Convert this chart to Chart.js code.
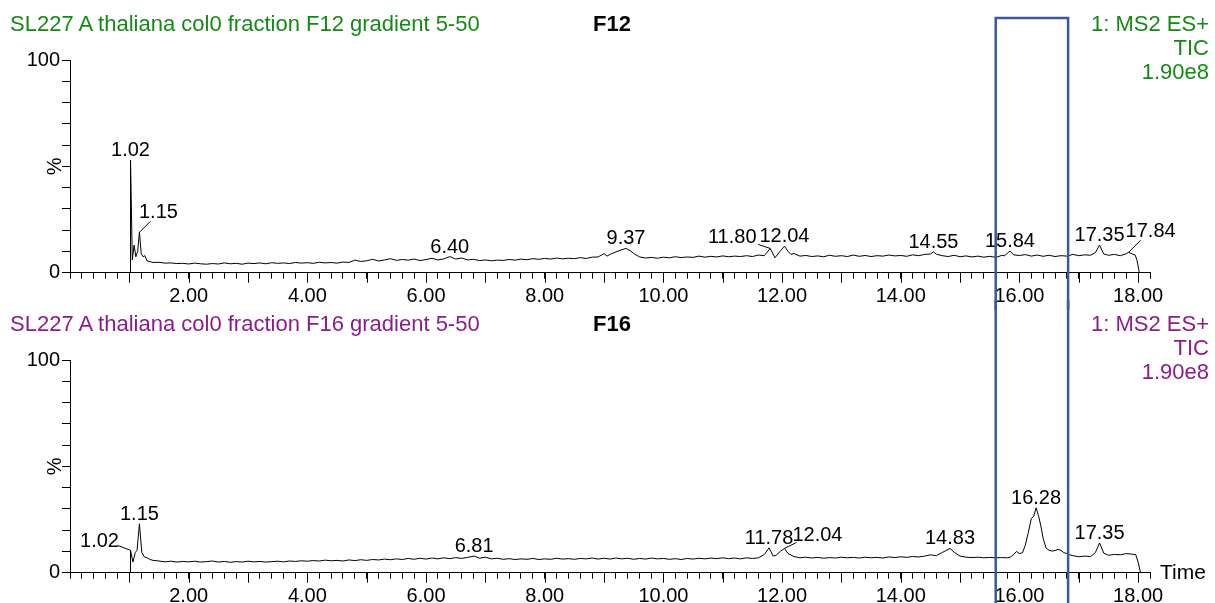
<!DOCTYPE html>
<html>
<head>
<meta charset="utf-8">
<script src="https://cdn.jsdelivr.net/npm/chart.js@4.4.1/dist/chart.umd.min.js"></script>
<style>
  body { margin: 0; background: #fff; }
  #wrap { position: relative; width: 1215px; height: 603px; overflow: hidden; font-family: "Liberation Sans", Arial, sans-serif; }
  canvas { position: absolute; left: 0; }
  .txt { position: absolute; white-space: nowrap; font-size: 22px; line-height: 24px; }
  .right { right: 6px; text-align: right; }
  .green { color: #148a14; }
  .purple { color: #8c1c8c; }
  .name { left: 562px; width: 100px; text-align: center; font-weight: bold; color: #000; }
</style>
</head>
<body>
<div id="wrap">
  <canvas id="top" width="1215" height="310" style="top:0"></canvas>
  <canvas id="bottom" width="1215" height="303" style="top:300px"></canvas>

  <div class="txt green" style="left:10px; top:12px">SL227 A thaliana col0 fraction F12 gradient 5-50</div>
  <div class="txt name" style="top:12px">F12</div>
  <div class="txt green right" style="top:12px">1: MS2 ES+<br>TIC<br>1.90e8</div>

  <div class="txt purple" style="left:10px; top:312px">SL227 A thaliana col0 fraction F16 gradient 5-50</div>
  <div class="txt name" style="top:312px">F16</div>
  <div class="txt purple right" style="top:312px">1: MS2 ES+<br>TIC<br>1.90e8</div>

  <div class="txt" style="left:1160px; top:560px; font-size:21px">Time</div>
</div>

<script>
// retention time (min) and relative intensity (%)
const f12Time = [0, 1.0, 1.015, 1.02, 1.05, 1.08, 1.11, 1.14, 1.17, 1.2, 1.23, 1.26, 1.3, 1.35, 1.4, 1.5, 1.6, 1.7, 1.8, 1.9,
  2.0, 2.1, 2.2, 2.3, 2.4, 2.5, 2.6, 2.7, 2.8, 2.9, 3.0, 3.1, 3.2, 3.3, 3.4, 3.5, 3.6, 3.7, 3.8, 3.9,
  4.0, 4.1, 4.2, 4.3, 4.4, 4.5, 4.6, 4.7, 4.8, 4.9, 5.0, 5.1, 5.2, 5.3, 5.4, 5.5, 5.6, 5.7, 5.8, 5.9,
  6.0, 6.1, 6.2, 6.3, 6.4, 6.5, 6.6, 6.7, 6.8, 6.9, 7.0, 7.1, 7.2, 7.3, 7.4, 7.5, 7.6, 7.7, 7.8, 7.9,
  8.0, 8.1, 8.2, 8.3, 8.4, 8.5, 8.6, 8.7, 8.8, 8.9, 9.0, 9.05, 9.1, 9.2, 9.3, 9.37, 9.45, 9.5, 9.6, 9.7, 9.8, 9.9,
  10.0, 10.1, 10.2, 10.3, 10.4, 10.5, 10.6, 10.7, 10.8, 10.9, 11.0, 11.1, 11.2, 11.3, 11.4, 11.5, 11.6, 11.7,
  11.8, 11.88, 11.95, 12.04, 12.1, 12.15, 12.2, 12.3, 12.4, 12.5, 12.6, 12.7, 12.8, 12.9,
  13.0, 13.1, 13.2, 13.3, 13.4, 13.5, 13.6, 13.7, 13.8, 13.9, 14.0, 14.1, 14.2, 14.3, 14.4, 14.5, 14.55, 14.6, 14.7, 14.8, 14.9,
  15.0, 15.1, 15.2, 15.3, 15.4, 15.5, 15.6, 15.7, 15.75, 15.84, 15.9, 16.0, 16.1, 16.2, 16.3, 16.4, 16.5, 16.6, 16.7, 16.8, 16.9,
  17.0, 17.1, 17.2, 17.28, 17.35, 17.42, 17.5, 17.6, 17.7, 17.8, 17.84, 17.9, 17.95, 17.98, 18.02, 18.15];
const f12Pct = [0, 0, 0, 53, 6, 13, 7.5, 10, 19, 9, 7.5, 8, 5.5, 5.2, 4.8, 4.9, 4.5, 4.6, 4.3, 4.4,
  4.1, 4.5, 4.2, 4.0, 4.3, 4.1, 4.6, 4.2, 4.4, 4.0, 4.5, 4.3, 4.6, 4.2, 4.7, 4.4, 4.6, 4.3, 4.8, 4.5,
  4.7, 4.4, 4.9, 4.6, 4.8, 4.5, 5.0, 4.8, 5.9, 5.3, 5.6, 6.3, 5.5, 6.0, 6.6, 5.8, 6.2, 5.9, 6.4, 5.7,
  6.2, 6.8, 6.0, 6.5, 7.6, 6.4, 6.9, 6.0, 6.3, 5.7, 6.0, 5.6, 5.9, 5.8, 6.2, 5.9, 6.4, 6.1, 6.6, 6.3,
  6.7, 6.4, 6.9, 6.5, 6.8, 6.6, 7.1, 6.7, 7.3, 7.4, 9.0, 7.8, 8.6, 9.8, 10.8, 11.4, 10.2, 9.0, 7.4, 6.9, 7.2, 6.8,
  7.3, 7.0, 7.5, 7.1, 7.4, 7.2, 7.8, 7.3, 7.7, 7.4, 7.9, 7.5, 7.8, 7.6, 8.0, 7.6, 8.3, 8.0,
  11.4, 7.0, 9.5, 12.5, 10.0, 8.6, 9.0, 7.8, 8.1, 7.6, 7.9, 7.5, 8.2, 7.7,
  8.0, 7.6, 8.3, 7.7, 8.1, 7.6, 8.0, 7.8, 8.3, 7.9, 8.1, 7.7, 8.4, 8.0, 8.6, 8.8, 9.8, 8.7, 8.0, 7.6, 8.2,
  7.5, 7.9, 7.4, 7.8, 7.3, 7.7, 7.2, 8.1, 8.0, 10.2, 8.4, 8.1, 8.5, 7.8, 8.3, 7.7, 8.2, 7.6, 8.0, 7.8, 8.6,
  8.0, 8.4, 8.2, 9.5, 13.0, 8.8, 8.2, 8.6, 8.0, 8.9, 9.6, 8.8, 8.3, 6.0, 0, 0];

const f16Time = [0, 1.0, 1.015, 1.02, 1.06, 1.1, 1.13, 1.17, 1.21, 1.25, 1.3, 1.35, 1.4, 1.5, 1.6, 1.7, 1.8, 1.9,
  2.0, 2.1, 2.2, 2.3, 2.4, 2.5, 2.6, 2.7, 2.8, 2.9, 3.0, 3.1, 3.2, 3.3, 3.4, 3.5, 3.6, 3.7, 3.8, 3.9,
  4.0, 4.1, 4.2, 4.3, 4.4, 4.5, 4.6, 4.7, 4.8, 4.9, 5.0, 5.1, 5.2, 5.3, 5.4, 5.5, 5.6, 5.7, 5.8, 5.9,
  6.0, 6.1, 6.2, 6.3, 6.4, 6.5, 6.6, 6.7, 6.81, 6.9, 7.0, 7.1, 7.2, 7.3, 7.4, 7.5, 7.6, 7.7, 7.8, 7.9,
  8.0, 8.1, 8.2, 8.3, 8.4, 8.5, 8.6, 8.7, 8.8, 8.9, 9.0, 9.1, 9.2, 9.3, 9.4, 9.5, 9.6, 9.7, 9.8, 9.9,
  10.0, 10.1, 10.2, 10.3, 10.4, 10.5, 10.6, 10.7, 10.8, 10.9, 11.0, 11.1, 11.2, 11.3, 11.4, 11.5, 11.6, 11.7,
  11.78, 11.85, 11.9, 11.97, 12.04, 12.1, 12.2, 12.3, 12.4, 12.5, 12.6, 12.7, 12.8, 12.9,
  13.0, 13.1, 13.2, 13.3, 13.4, 13.5, 13.6, 13.7, 13.8, 13.9, 14.0, 14.1, 14.2, 14.3, 14.4, 14.5, 14.6, 14.7, 14.83, 14.9,
  15.0, 15.1, 15.2, 15.3, 15.4, 15.5, 15.6, 15.7, 15.8, 15.85, 15.9, 15.95, 16.0, 16.05, 16.1, 16.15, 16.2, 16.24, 16.28,
  16.32, 16.36, 16.4, 16.45, 16.5, 16.55, 16.6, 16.65, 16.7, 16.75, 16.8, 16.85, 16.9,
  17.0, 17.1, 17.2, 17.28, 17.35, 17.42, 17.5, 17.6, 17.7, 17.8, 17.9, 17.96, 18.0, 18.04, 18.15];
const f16Pct = [0, 0, 0, 10.5, 5.0, 9.5, 10.5, 23, 9.5, 7.5, 7.0, 6.2, 5.8, 5.5, 5.1, 5.4, 5.0, 5.3,
  5.1, 5.4, 5.0, 5.2, 5.5, 5.0, 5.3, 4.9, 5.2, 5.0, 5.4, 5.1, 5.3, 5.0, 5.2, 5.4, 5.1, 5.5, 5.3, 5.6,
  5.4, 5.7, 5.5, 5.9, 5.6, 5.8, 5.5, 6.0, 5.7, 6.1, 5.8, 6.2, 6.0, 6.4, 6.1, 6.5, 6.2, 6.7, 6.3, 6.8,
  6.4, 6.9, 6.5, 7.0, 6.6, 7.1, 6.7, 7.2, 7.8, 6.8, 7.3, 6.5, 6.8, 6.3, 6.6, 6.2, 6.5, 6.3, 6.7, 6.2,
  6.5, 6.3, 6.8, 6.4, 6.6, 6.3, 6.7, 6.5, 6.9, 6.4, 6.8, 6.4, 6.9, 6.5, 6.8, 6.3, 6.7, 6.4, 6.9, 6.5,
  6.7, 6.3, 6.6, 6.2, 6.7, 6.4, 6.8, 6.5, 6.9, 6.6, 7.0, 6.6, 6.9, 6.5, 7.0, 6.7, 7.0, 8.5,
  11.7, 7.8, 8.2, 10.0, 11.4, 9.0, 7.6, 7.0, 7.3, 6.9, 7.2, 6.8, 7.1, 6.9,
  7.3, 7.0, 7.2, 6.9, 7.3, 7.0, 7.2, 6.9, 7.4, 7.1, 7.5, 7.2, 7.6, 7.4, 7.8, 8.4, 8.0, 9.5, 11.4, 9.6,
  7.8, 7.3, 7.1, 7.3, 7.0, 7.2, 7.0, 7.1, 7.0, 7.4, 8.5, 10.0, 9.0, 9.3, 13, 19, 25.5, 26.5, 30.5,
  27, 22, 16, 11.5, 10.5, 10.2, 10.4, 11.0, 10.5, 9.4, 9.0, 8.4, 8.0,
  7.5, 7.8, 7.6, 9.5, 14.0, 9.2, 8.2, 8.6, 8.4, 9.0, 8.7, 8.5, 5, 0, 0];

const f12Peaks = [1.02, 1.15, 6.40, 9.37, 11.80, 12.04, 14.55, 15.84, 17.35, 17.84];
const f16Peaks = [1.02, 1.15, 6.81, 11.78, 12.04, 14.83, 16.28, 17.35];

const timeMin = 0;
const timeMax = 18.2;
const boxStart = 15.6;
const boxEnd = 16.82;

// label placement (pixel offsets from the apex), only where a label is moved off its peak
const f12LabelStyle = {
  1.15: { dx: 19, dy: -14, lead: [11, -11] },
  11.80: { dx: -38, dy: -5, lead: [-12, -4] },
  17.84: { dx: 22, dy: -15, lead: [12, -12] },
};
const f16LabelStyle = {
  1.02: { dx: -31, dy: -3, lead: [-13, -5] },
  12.04: { dx: 33, dy: -7, lead: [12, -6] },
};

const FONT = '"Liberation Sans", Arial, sans-serif';
const AXIS_Y = 272.7;

const findApex = (times, vals, t) => {
  let best = null;
  times.forEach((tt, i) => {
    if (Math.abs(tt - t) <= 0.06 && (!best || vals[i] > best.v)) best = { t: tt, v: vals[i] };
  });
  return best;
};

const peakLabels = (times, vals, peaks, styles) => ({
  id: "peakLabels",
  afterDatasetsDraw(chart) {
    const { ctx } = chart;
    const x = chart.scales.x, y = chart.scales.y;
    ctx.save();
    ctx.font = `20px ${FONT}`;
    ctx.fillStyle = "#000";
    ctx.strokeStyle = "#000";
    ctx.lineWidth = 1;
    ctx.textAlign = "center";
    ctx.textBaseline = "alphabetic";
    peaks.forEach((t) => {
      const apex = findApex(times, vals, t);
      const px = x.getPixelForValue(apex.t);
      const py = y.getPixelForValue(apex.v);
      const st = styles[t.toFixed(2)] || styles[t] || {};
      if (st.lead) {
        ctx.beginPath();
        ctx.moveTo(px, py);
        ctx.lineTo(px + st.lead[0], py + st.lead[1]);
        ctx.stroke();
      }
      ctx.fillText(t.toFixed(2), px + (st.dx || 0), py + (st.dy ?? -4));
    });
    ctx.restore();
  },
});

const majorTicks = {
  id: "majorTicks",
  afterDraw(chart) {
    const { ctx } = chart;
    const x = chart.scales.x;
    const base = chart.chartArea.bottom;
    ctx.save();
    ctx.strokeStyle = "#000";
    ctx.lineWidth = 1;
    for (let i = 1; i <= 18; i++) {
      const px = Math.round(x.getPixelForValue(i)) + 0.5;
      ctx.beginPath();
      ctx.moveTo(px, base);
      ctx.lineTo(px, base + 10);
      ctx.stroke();
    }
    ctx.restore();
  },
};

const boxOverlay = (withTop) => ({
  id: "boxOverlay",
  afterDraw(chart) {
    const { ctx } = chart;
    const x = chart.scales.x;
    const x1 = x.getPixelForValue(boxStart);
    const x2 = x.getPixelForValue(boxEnd);
    const top = withTop ? 18 : -5;
    const bottom = chart.height + 5;
    ctx.save();
    ctx.strokeStyle = "#3a5a9c";
    ctx.lineWidth = 2.5;
    ctx.beginPath();
    ctx.moveTo(x1, bottom);
    ctx.lineTo(x1, top);
    ctx.lineTo(x2, top);
    ctx.lineTo(x2, bottom);
    ctx.stroke();
    ctx.restore();
  },
});

const makeChart = (id, times, vals, peaks, styles, withTop) => {
  const canvas = document.getElementById(id);
  const xHeight = canvas.height - AXIS_Y;
  return new Chart(canvas.getContext("2d"), {
    type: "line",
    data: {
      datasets: [
        {
          data: times.map((t, i) => ({ x: t, y: vals[i] })),
          borderColor: "#000",
          borderWidth: 1,
          pointRadius: 0,
          tension: 0,
        },
      ],
    },
    options: {
      responsive: false,
      animation: false,
      devicePixelRatio: 1,
      layout: { padding: { left: 0, right: 65, top: 60, bottom: 0 } },
      plugins: { legend: { display: false }, tooltip: { enabled: false } },
      scales: {
        x: {
          type: "linear",
          min: timeMin,
          max: timeMax,
          border: { display: true, color: "#000", width: 1 },
          grid: { drawOnChartArea: false, drawTicks: true, tickLength: 6, color: "#000" },
          ticks: {
            stepSize: 0.2,
            autoSkip: false,
            maxRotation: 0,
            padding: 6,
            color: "#000",
            font: { family: FONT, size: 20 },
            callback: (v) => {
              const r = Math.round(v * 10) / 10;
              return r > 0 && Math.abs(r / 2 - Math.round(r / 2)) < 1e-6 ? r.toFixed(2) : "";
            },
          },
          afterFit: (s) => {
            s.height = xHeight;
            s.paddingLeft = 0;
            s.paddingRight = 0;
          },
        },
        y: {
          min: 0,
          max: 100,
          border: { display: true, color: "#000", width: 1 },
          grid: { drawOnChartArea: false, drawTicks: true, tickLength: 8, color: "#000" },
          ticks: {
            stepSize: 10,
            autoSkip: false,
            padding: 2,
            color: "#000",
            font: { family: FONT, size: 20 },
            callback: (v) => (v === 0 || v === 100 ? String(v) : ""),
          },
          title: {
            display: true,
            text: "%",
            color: "#000",
            font: { family: FONT, size: 20 },
            padding: { top: 43, bottom: 0 },
          },
          afterFit: (s) => {
            s.width = 70;
            s.paddingTop = 0;
            s.paddingBottom = 0;
          },
        },
      },
    },
    plugins: [majorTicks, peakLabels(times, vals, peaks, styles), boxOverlay(withTop)],
  });
};

makeChart("top", f12Time, f12Pct, f12Peaks, f12LabelStyle, true);
makeChart("bottom", f16Time, f16Pct, f16Peaks, f16LabelStyle, false);
</script>
</body>
</html>
